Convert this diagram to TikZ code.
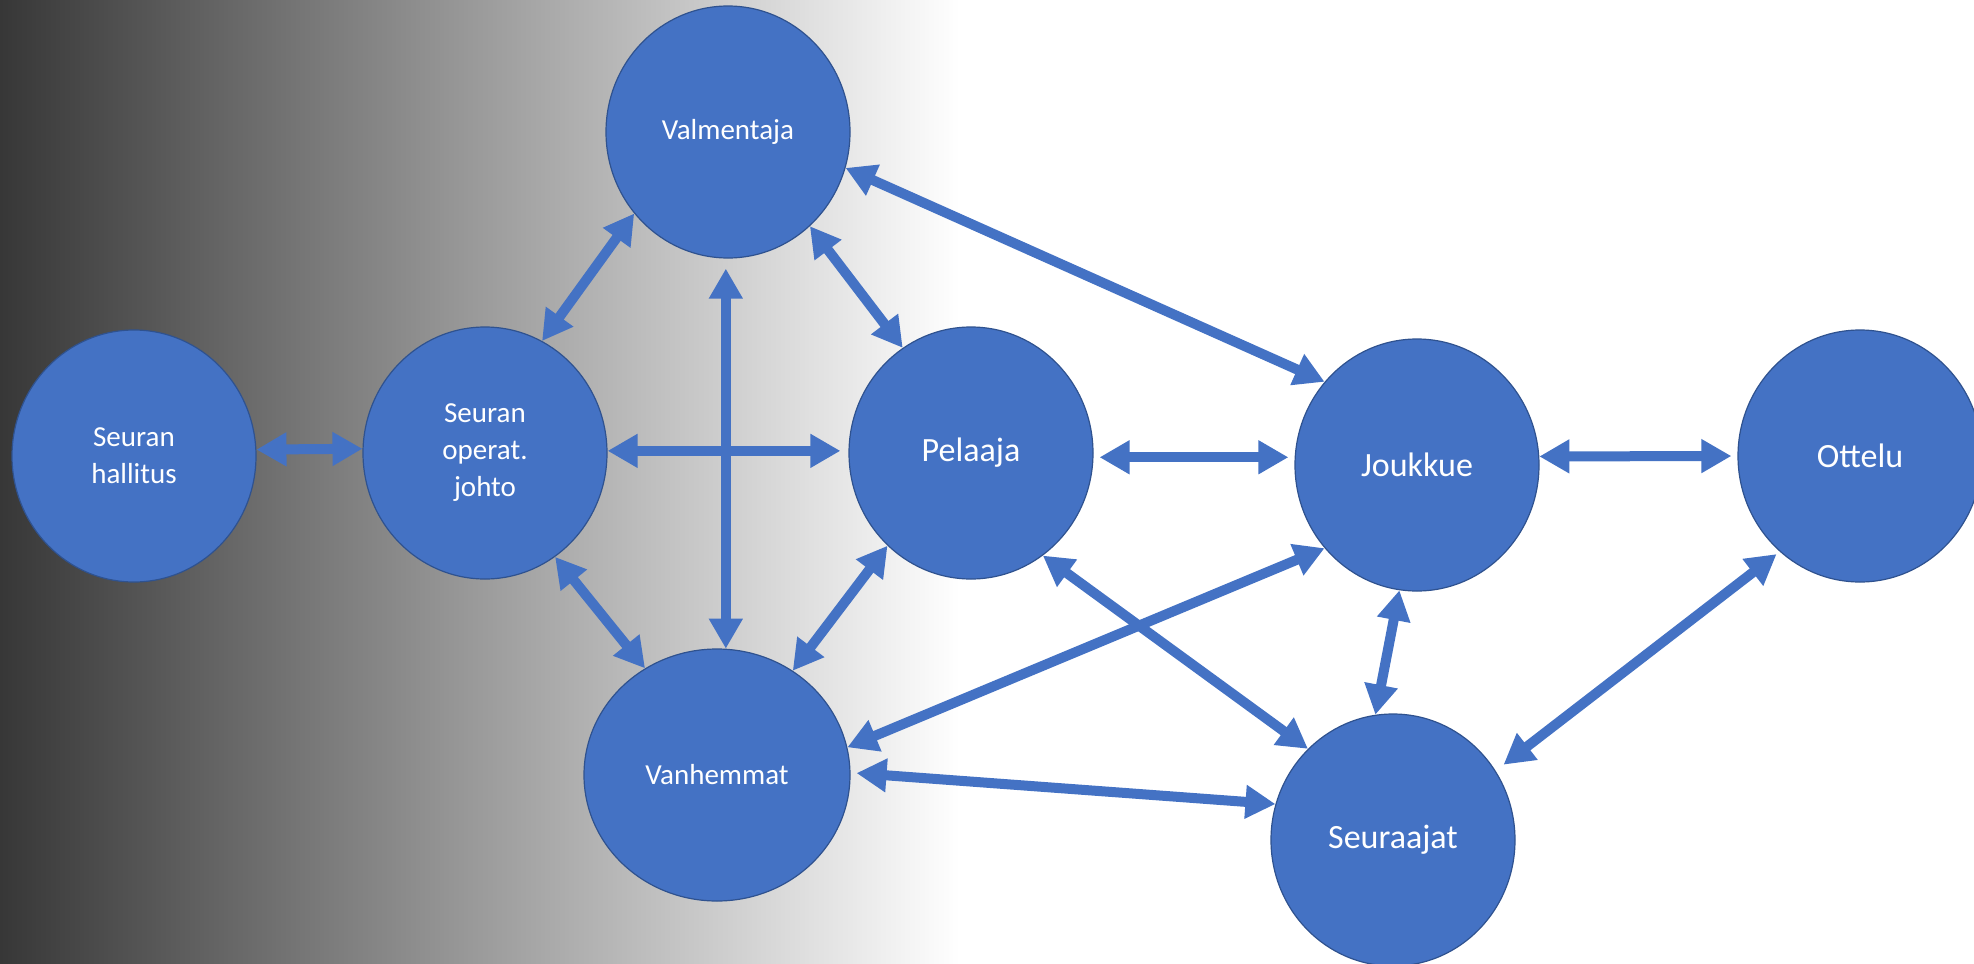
\documentclass[tikz,border=0pt]{standalone}
\usepackage{fontspec}
\setmainfont{Carlito}
\usetikzlibrary{arrows.meta,shapes.geometric}
\definecolor{obl}{HTML}{4472C4}
\definecolor{obd}{HTML}{2F528F}
\definecolor{bgdark}{RGB}{55,55,55}
\begin{document}
\begin{tikzpicture}[x=1pt,y=-1pt,
  bub/.style={ellipse, fill=obl, draw=obd, line width=1.2pt, text=white,
    inner sep=0pt, align=center, minimum width=244pt, minimum height=252pt},
  smalltxt/.style={font=\fontsize{29}{37}\selectfont},
  bigtxt/.style={font=\fontsize{34}{40}\selectfont},
  link/.style={draw=obl, line width=10pt,
    {Triangle[width=32pt,length=30pt]}-{Triangle[width=32pt,length=30pt]}}]
\useasboundingbox (0,0) rectangle (1974,964);
\fill[white] (0,0) rectangle (1974,964);
\fill[left color=bgdark, right color=white] (0,0) rectangle (960,964);

\node[bub,smalltxt] (H) at (134,456) {Seuran\\hallitus};
\node[bub,smalltxt] (J) at (485,453) {Seuran\\operat.\\johto};
\node[bub,smalltxt] (V) at (728,132) {Valmentaja};
\node[bub,bigtxt] (P) at (971,453) {Pelaaja};
\node[bub,smalltxt,minimum width=266pt] (Vh) at (717,775) {Vanhemmat};
\node[bub,bigtxt] (Jk) at (1417,465) {Joukkue};
\node[bub,bigtxt] (O) at (1860,456) {Ottelu};
\node[bub,bigtxt] (S) at (1393,840) {Seuraajat};

\draw[link] (H.3) -- (J.178);
\draw[link] (J.63) -- (V.221);
\draw[link,shorten >=8pt] (J.1) -- (J.1 -| P.west);
\draw[link,shorten <=10pt] (V.south -| Vh.86) -- (Vh.86);
\draw[link] (V.311) -- (P.123);
\draw[link] (V.343) -- (Jk.138);
\draw[link] (J.304) -- (Vh.124);
\draw[link] (P.228) -- (Vh.54);
\draw[link,shorten <=6pt,shorten >=6pt] (P.358) -- (P.358 -| Jk.west);
\draw[link,shorten >=6pt] (Jk.4) -- (O.180);
\draw[link] (Jk.222) -- (Vh.12);
\draw[link] (P.305) -- (S.133);
\draw[link] (Jk.262) -- (S.98);
\draw[link,shorten <=4pt,shorten >=10pt] (O.230) -- (S.34);
\draw[link,shorten <=6pt] (Vh.1) -- (S.163);
\end{tikzpicture}
\end{document}
